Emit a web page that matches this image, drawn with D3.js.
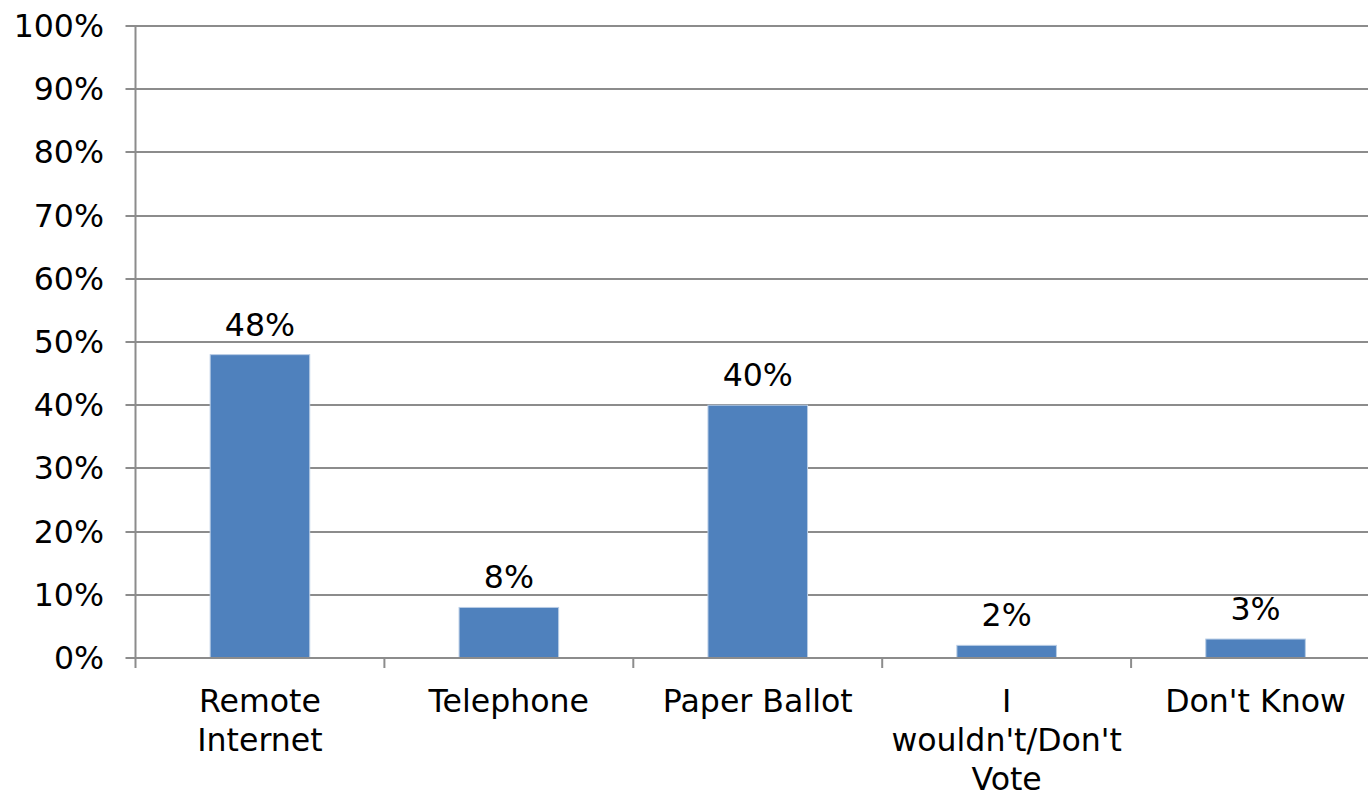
<!DOCTYPE html>
<html>
<head>
<meta charset="utf-8">
<script src="https://cdn.jsdelivr.net/npm/d3@7"></script>
<style>
  html, body { margin: 0; padding: 0; background: #fff; }
  svg { display: block; }
  text { font-family: "DejaVu Sans", Verdana, sans-serif; fill: #000; }
</style>
</head>
<body>
<svg id="chart" width="1368" height="791"></svg>
<script>
// Voting method preference (share of respondents)
const categories = ["Remote Internet", "Telephone", "Paper Ballot", "I wouldn't/Don't Vote", "Don't Know"];
const values = [0.48, 0.08, 0.40, 0.02, 0.03];
const valueLabels = ["48%", "8%", "40%", "2%", "3%"];
const yTicks = [0, 0.1, 0.2, 0.3, 0.4, 0.5, 0.6, 0.7, 0.8, 0.9, 1.0];

const svg = d3.select("#chart");
const FONT = 31.6;

const plotLeft = 135.5, plotRight = 1380, plotTop = 26, plotBottom = 658;

const x = d3.scaleBand()
  .domain(categories)
  .range([plotLeft, plotRight])
  .paddingInner(0.6)
  .paddingOuter(0.3);

const y = d3.scaleLinear().domain([0, 1]).range([plotBottom, plotTop]);

const gridColor = "#8c8c8c";

// horizontal gridlines
svg.append("g")
  .selectAll("line")
  .data(yTicks)
  .join("line")
  .attr("x1", plotLeft - 10)
  .attr("x2", 1368)
  .attr("y1", d => Math.round(y(d)))
  .attr("y2", d => Math.round(y(d)))
  .attr("stroke", gridColor)
  .attr("stroke-width", 2);

// y axis line
svg.append("line")
  .attr("x1", plotLeft).attr("x2", plotLeft)
  .attr("y1", plotTop).attr("y2", plotBottom + 10)
  .attr("stroke", gridColor)
  .attr("stroke-width", 2);

// y tick labels
svg.append("g")
  .selectAll("text")
  .data(yTicks)
  .join("text")
  .attr("x", 104)
  .attr("y", d => Math.round(y(d)) + 11)
  .attr("text-anchor", "end")
  .style("font-size", FONT + "px")
  .text(d3.format(".0%"));

// category separators on the x axis
const step = x.step();
const boundaries = d3.range(1, categories.length).map(i => plotLeft + i * step);
svg.append("g")
  .selectAll("line")
  .data(boundaries)
  .join("line")
  .attr("x1", d => d).attr("x2", d => d)
  .attr("y1", plotBottom).attr("y2", plotBottom + 10)
  .attr("stroke", gridColor)
  .attr("stroke-width", 2);

// bars
svg.append("g")
  .selectAll("rect")
  .data(values)
  .join("rect")
  .attr("x", (d, i) => x(categories[i]))
  .attr("width", x.bandwidth())
  .attr("y", d => y(d))
  .attr("height", d => y(0) - y(d))
  .attr("fill", "#4f81bd")
  .attr("stroke", "#b9cde5")
  .attr("stroke-width", 1);

// baseline redrawn over bar bottoms
svg.append("line")
  .attr("x1", plotLeft).attr("x2", 1368)
  .attr("y1", plotBottom).attr("y2", plotBottom)
  .attr("stroke", gridColor)
  .attr("stroke-width", 2);

// value labels
svg.append("g")
  .selectAll("text")
  .data(values)
  .join("text")
  .attr("x", (d, i) => x(categories[i]) + x.bandwidth() / 2)
  .attr("y", d => y(d) - 19)
  .attr("text-anchor", "middle")
  .style("font-size", FONT + "px")
  .text((d, i) => valueLabels[i]);

// category labels, wrapped to the band width
const maxWidth = 215;
const lineHeight = 39;
const catGroup = svg.append("g");
categories.forEach(cat => {
  const cx = x(cat) + x.bandwidth() / 2;
  const t = catGroup.append("text")
    .attr("text-anchor", "middle")
    .style("font-size", FONT + "px");
  const words = cat.split(" ");
  const lines = [];
  let current = [];
  const probe = t.append("tspan");
  words.forEach(w => {
    const trial = current.concat([w]).join(" ");
    probe.text(trial);
    if (current.length && probe.node().getComputedTextLength() > maxWidth) {
      lines.push(current.join(" "));
      current = [w];
    } else {
      current.push(w);
    }
  });
  if (current.length) lines.push(current.join(" "));
  probe.remove();
  lines.forEach((ln, i) => {
    t.append("tspan")
      .attr("x", cx)
      .attr("y", 711.5 + i * lineHeight)
      .text(ln);
  });
});
</script>
</body>
</html>
